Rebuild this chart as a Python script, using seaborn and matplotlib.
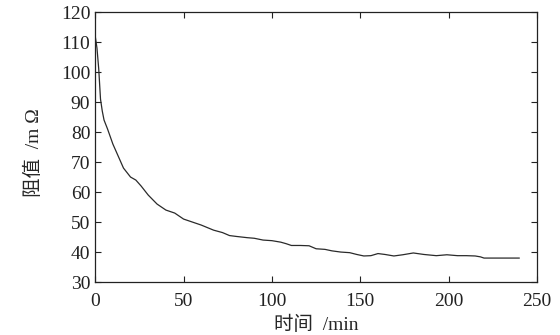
import matplotlib
matplotlib.use("Agg")
import pandas as pd
import matplotlib.pyplot as plt
import seaborn as sns

# time (min) vs resistance (mOhm)
time_min = [0, 1, 2, 3, 4, 5, 7, 10, 13, 16, 20, 23, 26, 30, 35, 40, 45, 50,
            55, 60, 67, 72, 76, 80, 86, 90, 95, 100, 105, 108, 111, 116, 121,
            125, 130, 134, 139, 144, 148, 152, 156, 160, 164, 169, 174, 180,
            186, 193, 199, 205, 210, 215, 218, 220, 230, 240]
resist = [112, 108, 101, 91, 87, 84, 81, 76, 72, 68, 65, 64, 62, 59, 56, 54,
          53, 51, 50, 49, 47.3, 46.5, 45.5, 45.2, 44.8, 44.6, 44, 43.8, 43.3,
          42.8, 42.2, 42.2, 42.1, 41.1, 40.9, 40.4, 40, 39.8, 39.2, 38.7, 38.8,
          39.5, 39.2, 38.7, 39.1, 39.7, 39.2, 38.8, 39.1, 38.8, 38.8, 38.7,
          38.4, 38, 38, 38]
xticks = [0, 50, 100, 150, 200, 250]
yticks = [30, 40, 50, 60, 70, 80, 90, 100, 110, 120]

df = pd.DataFrame({"t": time_min, "r": resist})

sns.set_style("ticks")
plt.rcParams['font.family'] = ['Liberation Serif', 'Noto Sans CJK SC']
plt.rcParams['xtick.direction'] = 'in'
plt.rcParams['ytick.direction'] = 'in'

fig = plt.figure(figsize=(5.6, 3.35), dpi=100)
ax = fig.add_axes([0.170, 0.158, 0.789, 0.806])
sns.lineplot(data=df, x="t", y="r", ax=ax, color="#2a2a2a", linewidth=0.9)

ax.set_xlim(0, 250)
ax.set_ylim(30, 120)
ax.set_xticks(xticks)
ax.set_yticks(yticks)
ax.tick_params(labelsize=14, top=True, right=True, length=4, width=0.8,
               colors="#222222")
ax.tick_params(axis='x', pad=8)
for s in ax.spines.values():
    s.set_visible(True)
    s.set_linewidth(0.9)
    s.set_color("#222222")

ax.set_xlabel("时间  /min", fontsize=14, labelpad=4)
ax.set_ylabel("阻值  /m Ω", fontsize=14)
ax.yaxis.set_label_coords(-0.118, 0.48)

fig.savefig("out.png", dpi=100)
